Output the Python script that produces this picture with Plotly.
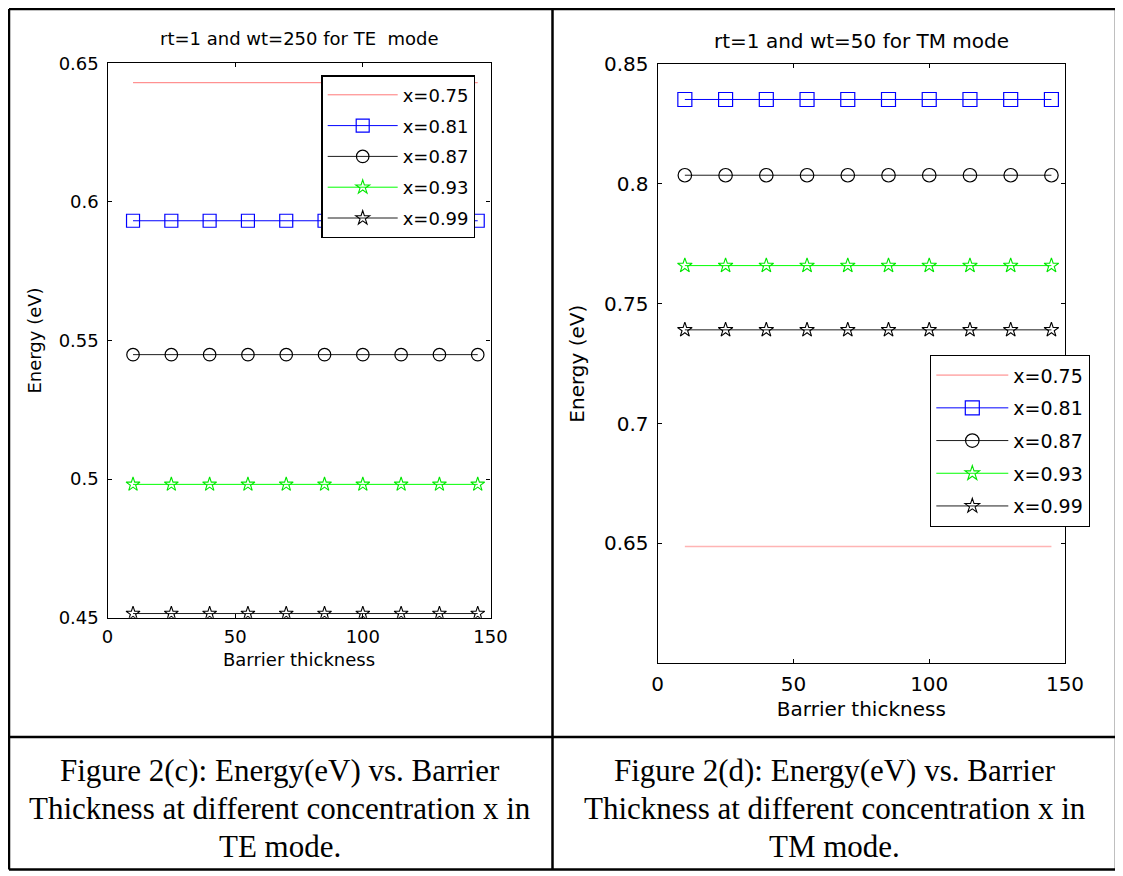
import plotly.graph_objects as go

# ---------------- data ----------------
barrier = [10, 25, 40, 55, 70, 85, 100, 115, 130, 145]
labels = ["x=0.75", "x=0.81", "x=0.87", "x=0.93", "x=0.99"]

te_075 = [0.643, 0.643, 0.643, 0.643, 0.643, 0.643, 0.643, 0.643, 0.643, 0.643]
te_081 = [0.5932, 0.5932, 0.5932, 0.5932, 0.5932, 0.5932, 0.5932, 0.5932, 0.5932, 0.5932]
te_087 = [0.5449, 0.5449, 0.5449, 0.5449, 0.5449, 0.5449, 0.5449, 0.5449, 0.5449, 0.5449]
te_093 = [0.4981, 0.4981, 0.4981, 0.4981, 0.4981, 0.4981, 0.4981, 0.4981, 0.4981, 0.4981]
te_099 = [0.4515, 0.4515, 0.4515, 0.4515, 0.4515, 0.4515, 0.4515, 0.4515, 0.4515, 0.4515]

tm_075 = [0.6487, 0.6487, 0.6487, 0.6487, 0.6487, 0.6487, 0.6487, 0.6487, 0.6487, 0.6487]
tm_081 = [0.8352, 0.8352, 0.8352, 0.8352, 0.8352, 0.8352, 0.8352, 0.8352, 0.8352, 0.8352]
tm_087 = [0.8036, 0.8036, 0.8036, 0.8036, 0.8036, 0.8036, 0.8036, 0.8036, 0.8036, 0.8036]
tm_093 = [0.7659, 0.7659, 0.7659, 0.7659, 0.7659, 0.7659, 0.7659, 0.7659, 0.7659, 0.7659]
tm_099 = [0.7391, 0.7391, 0.7391, 0.7391, 0.7391, 0.7391, 0.7391, 0.7391, 0.7391, 0.7391]

x_ticks = [0, 50, 100, 150]
te_yticks = [0.45, 0.5, 0.55, 0.6, 0.65]
te_yticktext = ["0.45", "0.5", "0.55", "0.6", "0.65"]
tm_yticks = [0.6, 0.65, 0.7, 0.75, 0.8, 0.85]
tm_yticktext = ["", "0.65", "0.7", "0.75", "0.8", "0.85"]

title_te = "rt=1 and wt=250 for TE  mode"
title_tm = "rt=1 and wt=50 for TM mode"
caption_c = ["Figure 2(c): Energy(eV) vs. Barrier",
             "Thickness at different concentration x in",
             "TE mode."]
caption_d = ["Figure 2(d): Energy(eV) vs. Barrier",
             "Thickness at different concentration x in",
             "TM mode."]

# ---------------- layout helpers ----------------
# the page body adds an 8 px margin, so page pixel p sits at figure pixel p-8
OFF = 8
WF, HF = 1115, 868
def px(v):
    return (v - OFF) / WF
def py(v):
    return 1 - (v - OFF) / HF

FONT = "DejaVu Sans"
SERIF = "Liberation Serif"

def styles(k):
    sq, ci, stz = (13, 12.5, 10.5) if k == 0 else (14, 13.5, 11)
    return [
        dict(mode="lines", line=dict(color="rgb(255,120,120)", width=1) if k == 0
             else dict(color="rgb(255,180,180)", width=1.6)),
        dict(mode="lines+markers", line=dict(color="rgb(0,0,255)", width=1),
             marker=dict(symbol="square-open", size=sq, color="rgb(0,0,255)", line=dict(width=1.2))),
        dict(mode="lines+markers", line=dict(color="rgb(30,30,30)", width=1),
             marker=dict(symbol="circle-open", size=ci, color="rgb(0,0,0)", line=dict(width=1.2))),
        dict(mode="lines+markers", line=dict(color="rgb(0,255,0)", width=1),
             marker=dict(symbol="star-open", size=stz, color="rgb(0,230,0)", line=dict(width=1.1))),
        dict(mode="lines+markers", line=dict(color="rgb(30,30,30)", width=1),
             marker=dict(symbol="star-open", size=stz, color="rgb(0,0,0)", line=dict(width=1.1))),
    ]

fig = go.Figure()

te_series = [te_075, te_081, te_087, te_093, te_099]
tm_series = [tm_075, tm_081, tm_087, tm_093, tm_099]

st_te = styles(0)
for i, (lab, ys) in enumerate(zip(labels, te_series)):
    fig.add_trace(go.Scatter(x=barrier, y=ys, name=lab, xaxis="x", yaxis="y",
                             legend="legend", legendgroup="te%d" % i, **st_te[i]))

st_tm = styles(1)
for i, (lab, ys) in enumerate(zip(labels, tm_series)):
    fig.add_trace(go.Scatter(x=barrier, y=ys, name=lab, xaxis="x2", yaxis="y2",
                             legend="legend2", legendgroup="tm%d" % i, **st_tm[i]))

def axis_common(fs):
    return dict(showline=True, linecolor="black", linewidth=1.3, mirror="ticks",
                ticks="inside", ticklen=4, tickwidth=1, tickcolor="black",
                showgrid=False, zeroline=False, automargin=False,
                tickfont=dict(family=FONT, size=fs, color="black"))

# left axes
xa = axis_common(18)
xa.update(domain=[px(107.5), px(490.5)], anchor="y", range=[0, 150],
          tickvals=x_ticks, ticklabelstandoff=3,
          title=dict(text="Barrier thickness", font=dict(family=FONT, size=18, color="black"), standoff=6))
ya = axis_common(18)
ya.update(domain=[py(617.7), py(63.3)], anchor="x", range=[0.45, 0.65],
          tickvals=te_yticks, ticktext=te_yticktext, ticklabelstandoff=4,
          title=dict(text="Energy (eV)", font=dict(family=FONT, size=18, color="black"), standoff=12))

# right axes
xa2 = axis_common(20)
xa2.update(domain=[px(657.7), px(1065)], anchor="y2", range=[0, 150],
           tickvals=x_ticks, ticklabelstandoff=3,
           title=dict(text="Barrier thickness", font=dict(family=FONT, size=20, color="black"), standoff=6))
ya2 = axis_common(20)
ya2.update(domain=[py(663.3), py(64)], anchor="x2", range=[0.6, 0.85],
           tickvals=tm_yticks, ticktext=tm_yticktext, ticklabelstandoff=4,
           title=dict(text="Energy (eV)", font=dict(family=FONT, size=20, color="black"), standoff=14))

# table borders
line_w = 2.5
shapes = []
def seg(x0, y0, x1, y1):
    shapes.append(dict(type="line", xref="paper", yref="paper",
                       x0=px(x0), y0=py(y0), x1=px(x1), y1=py(y1),
                       line=dict(color="black", width=line_w)))
L, T, R, B = 9, 9, 1116, 869.5
MID, HDIV = 552.5, 737
seg(L, T, R, T)
seg(L, B, R, B)
seg(L, T, L, B)
seg(R, T, R, B)
seg(MID, T, MID, B)
seg(L, HDIV, R, HDIV)

annotations = [
    dict(text=title_te, x=px(299), y=py(39), xref="paper", yref="paper",
         showarrow=False, xanchor="center", yanchor="middle",
         font=dict(family=FONT, size=18, color="black")),
    dict(text=title_tm, x=px(861), y=py(41), xref="paper", yref="paper",
         showarrow=False, xanchor="center", yanchor="middle",
         font=dict(family=FONT, size=20, color="black")),
]
cap_y = [770, 808, 846]
for txt, yy in zip(caption_c, cap_y):
    annotations.append(dict(text=txt, x=px(280), y=py(yy), xref="paper", yref="paper",
                            showarrow=False, xanchor="center", yanchor="middle",
                            font=dict(family=SERIF, size=31, color="black")))
for txt, yy in zip(caption_d, cap_y):
    annotations.append(dict(text=txt, x=px(834.5), y=py(yy), xref="paper", yref="paper",
                            showarrow=False, xanchor="center", yanchor="middle",
                            font=dict(family=SERIF, size=31, color="black")))

fig.update_layout(
    width=WF, height=HF,
    margin=dict(l=0, r=0, t=0, b=0),
    paper_bgcolor="white", plot_bgcolor="white",
    xaxis=xa, yaxis=ya, xaxis2=xa2, yaxis2=ya2,
    shapes=shapes, annotations=annotations,
    legend=dict(x=px(321.4), y=py(75.3), xanchor="left", yanchor="top",
                bgcolor="white", bordercolor="black", borderwidth=1.3,
                font=dict(family=FONT, size=18, color="black"),
                itemwidth=70, tracegroupgap=4.4, traceorder="grouped"),
    legend2=dict(x=px(930), y=py(355), xanchor="left", yanchor="top",
                 bgcolor="white", bordercolor="black", borderwidth=1.3,
                 font=dict(family=FONT, size=19, color="black"),
                 itemwidth=72, tracegroupgap=5, traceorder="grouped"),
    showlegend=True,
)

fig.write_html("out.html")
